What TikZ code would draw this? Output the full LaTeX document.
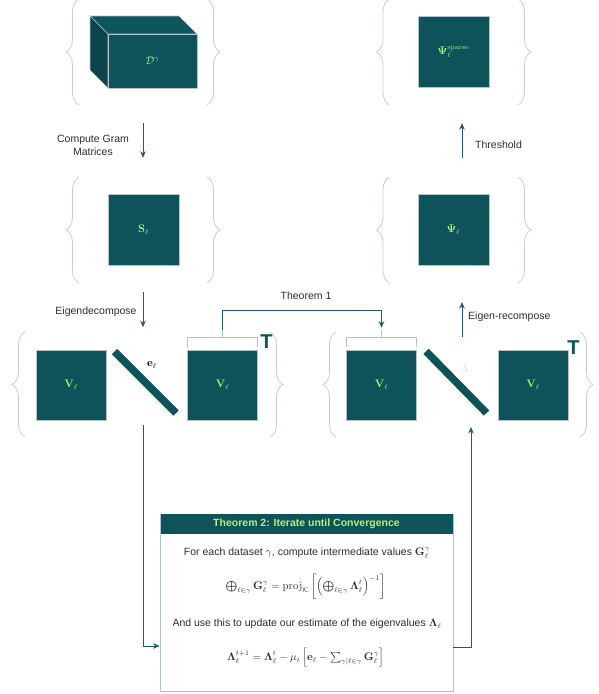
\documentclass[tikz,border=0pt]{standalone}
\usepackage{amsmath,amssymb}
\usepackage[no-math]{fontspec}
\setmainfont{Liberation Sans}
\usetikzlibrary{arrows.meta,decorations.pathreplacing,calc}
\definecolor{tealbox}{HTML}{0E5359}
\definecolor{tealside}{HTML}{0A4549}
\definecolor{tealtop}{HTML}{0F565C}
\definecolor{lgreen}{HTML}{B6F07C}
\definecolor{edgec}{HTML}{B3C4CE}
\definecolor{bracec}{HTML}{C3CFD8}
\definecolor{arrc}{HTML}{1E5A72}
\definecolor{txt}{HTML}{2E2E2E}
\definecolor{lamc}{HTML}{E2E7EB}
\newcommand{\fsz}{\fontsize{10.5}{12.6}\selectfont}
\tikzset{
  mat/.style={draw=edgec, fill=tealbox, line width=0.6pt, text=lgreen, inner sep=0pt, font=\fsz},
  grp/.style={draw=none, inner sep=0pt},
  brc/.style={draw=bracec, line width=0.8pt, decorate, decoration={brace, amplitude=13pt, aspect=0.5}},
  arr/.style={draw=arrc, line width=0.9pt, -{Stealth[length=6.5pt,width=5.5pt]}},
  lbl/.style={text=txt, font=\fsz, inner sep=0pt},
  bar/.style={draw=tealbox, line width=7.5pt},
  tee/.style={text=tealbox, font=\fontsize{20}{20}\selectfont\bfseries, inner sep=0pt},
  bkt/.style={draw=edgec, line width=0.9pt},
}
\newcommand{\mylbrace}[3]{\draw[brc] (#1+6.5,#3) -- (#1+6.5,#2);}
\newcommand{\myrbrace}[3]{\draw[brc] (#1-6.5,#2) -- (#1-6.5,#3);}
\begin{document}
\begin{tikzpicture}[x=1pt,y=-1pt]
\useasboundingbox (0,0) rectangle (599,694);
\fill[white] (0,0) rectangle (599,694);

% ---------- group nodes ----------
\node[grp, minimum width=154pt, minimum height=106pt] (gA) at (143,52) {};
\node[grp, minimum width=154pt, minimum height=106pt] (gB) at (143,230) {};
\node[grp, minimum width=156pt, minimum height=106pt] (gD) at (454,52) {};
\node[grp, minimum width=156pt, minimum height=106pt] (gE) at (454,230) {};

% ---------- braces ----------
\mylbrace{72.5}{-1}{105}  \myrbrace{213.5}{-1}{105}
\mylbrace{72.5}{177}{283} \myrbrace{213.5}{177}{283}
\mylbrace{383}{-1}{105}   \myrbrace{524.5}{-1}{105}
\mylbrace{383}{177}{283}  \myrbrace{524.5}{177}{283}
\mylbrace{18.5}{332}{437} \myrbrace{276.5}{332}{437}
\mylbrace{329.5}{332}{437} \myrbrace{586.5}{332}{437}

% ---------- cube ----------
\filldraw[draw=edgec, line width=0.6pt, fill=tealtop] (90,16) -- (179,16) -- (197,34) -- (108,34) -- cycle;
\filldraw[draw=edgec, line width=0.6pt, fill=tealside] (90,16) -- (108,34) -- (108,88) -- (90,70) -- cycle;
\node[mat, minimum width=89pt, minimum height=54pt] (D) at (152.5,61) {$\mathcal{D}^{\gamma}$};

% ---------- matrices ----------
\node[mat, minimum size=71pt] (S) at (143.5,229.5) {$\mathbf{S}_\ell$};
\node[mat, minimum size=71pt] (Psp) at (453.5,52) {$\boldsymbol{\Psi}_\ell^{\mathrm{sparse}}$};
\node[mat, minimum size=71pt] (Ps) at (453.5,229.5) {$\boldsymbol{\Psi}_\ell$};

\node[mat, minimum size=70pt] (VL1) at (71,385) {$\mathbf{V}_\ell$};
\node[mat, minimum size=70pt] (VR1) at (222.5,385) {$\mathbf{V}_\ell$};
\node[mat, minimum size=70pt] (VL2) at (381.5,385) {$\mathbf{V}_\ell$};
\node[mat, minimum size=70pt] (VR2) at (533,385) {$\mathbf{V}_\ell$};

\coordinate (b1s) at (114.5,351.5); \coordinate (b1e) at (176,413);
\coordinate (b2s) at (426,351.3);   \coordinate (b2e) at (486.5,413);
\draw[bar] (b1s) -- (b1e);
\draw[bar] (b2s) -- (b2e);
\node[lbl, text=black] (e) at (152,365) {$\mathbf{e}_\ell$};
\node[lbl, text=lamc] (lam) at (467,370) {$\boldsymbol{\Lambda}_\ell$};

\node[tee] (T1) at (266.5,341.5) {T};
\node[tee] (T2) at (573.5,347.5) {T};

% brackets
\draw[bkt] ([yshift=3pt]VR1.north west) -- ++(0,-9) -| ([yshift=3pt]VR1.north east);
\draw[bkt] (VR1.north) ++(0,-12) -- ++(0,-8) coordinate (k1);
\draw[bkt] ([yshift=3pt]VL2.north west) -- ++(0,-9) -| ([yshift=3pt]VL2.north east);
\draw[bkt] (VL2.north) ++(0,-12) -- ++(0,-8) coordinate (k2);

% ---------- arrows ----------
\draw[arr] ([yshift=-18pt]gA.south) -- ([yshift=19pt]gB.north);
\node[lbl, align=center] (cg) at (93,145.5) {Compute Gram\\Matrices};

\draw[arr] ([yshift=-9pt]gB.south) -- ++(0,35);
\node[lbl] (ed) at (96,312) {Eigendecompose};

\draw[arr] ([xshift=8pt,yshift=19pt]gE.north) -- ([xshift=8pt,yshift=-18pt]gD.south);
\node[lbl, anchor=west] (th) at (475,145) {Threshold};

\coordinate (er1) at (462,337);
\draw[arr] (er1) -- ++(0,-35);
\node[lbl, anchor=west] (erl) at (468,317) {Eigen-recompose};

\draw[arr] (k1) -- ++(0,-19) -| ([yshift=2pt]k2);
\node[lbl] (t1l) at (306,296) {Theorem 1};

% ---------- theorem box ----------
\node[draw=edgec, line width=0.9pt, minimum width=293pt, minimum height=177pt, inner sep=0pt] (thm) at (306.5,602.5) {};
\node[fill=tealbox, minimum width=292pt, minimum height=20pt, anchor=north, inner sep=0pt,
      text=lgreen, font=\fsz\bfseries] (thmh) at ([yshift=-0.45pt]thm.north) {Theorem 2: Iterate until Convergence};
\node[lbl] (l1) at (307,553) {For each dataset $\gamma$, compute intermediate values $\mathbf{G}_\ell^\gamma$};
\node[lbl] (l2) at (305.5,587) {$\bigoplus_{\ell\in\gamma}\mathbf{G}_\ell^\gamma=\mathrm{proj}_{\mathcal{K}}\left[\left(\bigoplus_{\ell\in\gamma}\boldsymbol{\Lambda}_\ell^t\right)^{-1}\right]$};
\node[lbl] (l3) at (307,624) {And use this to update our estimate of the eigenvalues $\boldsymbol{\Lambda}_\ell$};
\node[lbl] (l4) at (305.5,658) {$\boldsymbol{\Lambda}_\ell^{t+1}=\boldsymbol{\Lambda}_\ell^{t}-\mu_t\left[\mathbf{e}_\ell-\sum_{\gamma|\ell\in\gamma}\mathbf{G}_\ell^\gamma\right]$};

\coordinate (ds) at (143,425);
\draw[arr] (ds) |- ([yshift=-43.5pt]thm.west);
\coordinate (us) at (471,427);
\draw[arr] ([yshift=-44.5pt]thm.east) -| (us);
\end{tikzpicture}
\end{document}
